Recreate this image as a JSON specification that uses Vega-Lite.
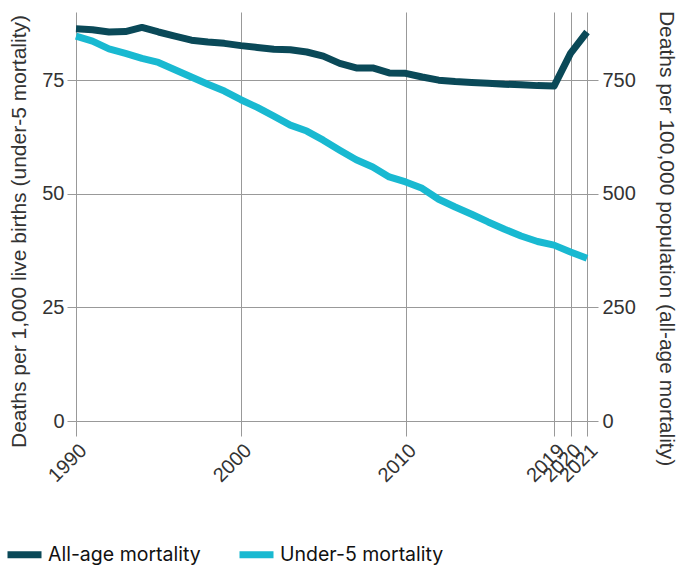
{
  "$schema": "https://vega.github.io/schema/vega-lite/v6.json",
  "autosize": "none",
  "padding": {"left": 76, "top": 12, "right": 91, "bottom": 144},
  "width": 511,
  "height": 409,
  "config": {
    "view": {"stroke": null},
    "axis": {"labelFont": "Liberation Sans", "titleFont": "Liberation Sans", "labelFontSize": 20, "titleFontSize": 21, "labelColor": "#333333", "titleColor": "#333333", "titleFontWeight": "normal", "gridColor": "#999999", "tickColor": "#999999", "domain": false}
  },
  "data": {"values": [
    {"year": 1990, "series": "All-age mortality", "value": 863},
    {"year": 1991, "series": "All-age mortality", "value": 861},
    {"year": 1992, "series": "All-age mortality", "value": 856},
    {"year": 1993, "series": "All-age mortality", "value": 857},
    {"year": 1994, "series": "All-age mortality", "value": 866},
    {"year": 1995, "series": "All-age mortality", "value": 856},
    {"year": 1996, "series": "All-age mortality", "value": 847},
    {"year": 1997, "series": "All-age mortality", "value": 838},
    {"year": 1998, "series": "All-age mortality", "value": 834},
    {"year": 1999, "series": "All-age mortality", "value": 831},
    {"year": 2000, "series": "All-age mortality", "value": 826},
    {"year": 2001, "series": "All-age mortality", "value": 822},
    {"year": 2002, "series": "All-age mortality", "value": 818},
    {"year": 2003, "series": "All-age mortality", "value": 817},
    {"year": 2004, "series": "All-age mortality", "value": 812},
    {"year": 2005, "series": "All-age mortality", "value": 803},
    {"year": 2006, "series": "All-age mortality", "value": 787},
    {"year": 2007, "series": "All-age mortality", "value": 777},
    {"year": 2008, "series": "All-age mortality", "value": 777},
    {"year": 2009, "series": "All-age mortality", "value": 766},
    {"year": 2010, "series": "All-age mortality", "value": 765},
    {"year": 2011, "series": "All-age mortality", "value": 757},
    {"year": 2012, "series": "All-age mortality", "value": 750},
    {"year": 2013, "series": "All-age mortality", "value": 747},
    {"year": 2014, "series": "All-age mortality", "value": 745},
    {"year": 2015, "series": "All-age mortality", "value": 743},
    {"year": 2016, "series": "All-age mortality", "value": 741},
    {"year": 2017, "series": "All-age mortality", "value": 740},
    {"year": 2018, "series": "All-age mortality", "value": 738},
    {"year": 2019, "series": "All-age mortality", "value": 737},
    {"year": 2020, "series": "All-age mortality", "value": 809},
    {"year": 2021, "series": "All-age mortality", "value": 856},
    {"year": 1990, "series": "Under-5 mortality", "value": 84.7},
    {"year": 1991, "series": "Under-5 mortality", "value": 83.6},
    {"year": 1992, "series": "Under-5 mortality", "value": 81.9},
    {"year": 1993, "series": "Under-5 mortality", "value": 80.9},
    {"year": 1994, "series": "Under-5 mortality", "value": 79.8},
    {"year": 1995, "series": "Under-5 mortality", "value": 78.9},
    {"year": 1996, "series": "Under-5 mortality", "value": 77.3},
    {"year": 1997, "series": "Under-5 mortality", "value": 75.7},
    {"year": 1998, "series": "Under-5 mortality", "value": 74.1},
    {"year": 1999, "series": "Under-5 mortality", "value": 72.6},
    {"year": 2000, "series": "Under-5 mortality", "value": 70.7},
    {"year": 2001, "series": "Under-5 mortality", "value": 69.0},
    {"year": 2002, "series": "Under-5 mortality", "value": 67.1},
    {"year": 2003, "series": "Under-5 mortality", "value": 65.1},
    {"year": 2004, "series": "Under-5 mortality", "value": 63.8},
    {"year": 2005, "series": "Under-5 mortality", "value": 61.8},
    {"year": 2006, "series": "Under-5 mortality", "value": 59.6},
    {"year": 2007, "series": "Under-5 mortality", "value": 57.5},
    {"year": 2008, "series": "Under-5 mortality", "value": 55.9},
    {"year": 2009, "series": "Under-5 mortality", "value": 53.7},
    {"year": 2010, "series": "Under-5 mortality", "value": 52.6},
    {"year": 2011, "series": "Under-5 mortality", "value": 51.2},
    {"year": 2012, "series": "Under-5 mortality", "value": 48.8},
    {"year": 2013, "series": "Under-5 mortality", "value": 47.1},
    {"year": 2014, "series": "Under-5 mortality", "value": 45.5},
    {"year": 2015, "series": "Under-5 mortality", "value": 43.8},
    {"year": 2016, "series": "Under-5 mortality", "value": 42.2},
    {"year": 2017, "series": "Under-5 mortality", "value": 40.7},
    {"year": 2018, "series": "Under-5 mortality", "value": 39.5},
    {"year": 2019, "series": "Under-5 mortality", "value": 38.7},
    {"year": 2020, "series": "Under-5 mortality", "value": 37.2},
    {"year": 2021, "series": "Under-5 mortality", "value": 35.8}
  ]},
  "encoding": {
    "x": {"field": "year", "type": "quantitative", "scale": {"domain": [1990, 2021], "nice": false, "zero": false},
      "axis": {"title": null, "values": [1990, 2000, 2010, 2019, 2020, 2021], "format": "d", "labelAngle": -45, "tickSize": 15, "labelPadding": 4, "grid": true, "labelFlush": false, "labelOverlap": false}},
    "color": {"field": "series", "type": "nominal",
      "scale": {"domain": ["All-age mortality", "Under-5 mortality"], "range": ["#0a4958", "#19b9d1"]},
      "legend": {"title": null, "orient": "none", "legendX": -72, "legendY": 522, "direction": "horizontal", "symbolType": "stroke", "symbolStrokeWidth": 7, "symbolSize": 1156, "labelFont": "Inter", "labelFontSize": 19.5, "labelColor": "#111111", "labelLimit": 400, "columnPadding": 24, "labelOffset": 3}}
  },
  "layer": [
    {
      "transform": [{"filter": "datum.series === 'Under-5 mortality'"}],
      "mark": {"type": "line", "strokeWidth": 7, "strokeJoin": "round"},
      "encoding": {
        "y": {"field": "value", "type": "quantitative", "scale": {"domain": [0, 90], "nice": false},
          "axis": {"title": "Deaths per 1,000 live births (under-5 mortality)", "values": [0, 25, 50, 75], "tickSize": 9, "labelPadding": 3, "titlePadding": 12, "titleY": 219, "grid": true}}
      }
    },
    {
      "transform": [{"filter": "datum.series === 'All-age mortality'"}],
      "mark": {"type": "line", "strokeWidth": 7, "strokeJoin": "round"},
      "encoding": {
        "y": {"field": "value", "type": "quantitative", "scale": {"domain": [0, 900], "nice": false},
          "axis": {"orient": "right", "title": "Deaths per 100,000 population (all-age mortality)", "values": [0, 250, 500, 750], "tickSize": 11, "labelPadding": 4, "titlePadding": 20, "titleY": 226, "grid": false}}
      }
    }
  ],
  "resolve": {"scale": {"y": "independent"}}
}
